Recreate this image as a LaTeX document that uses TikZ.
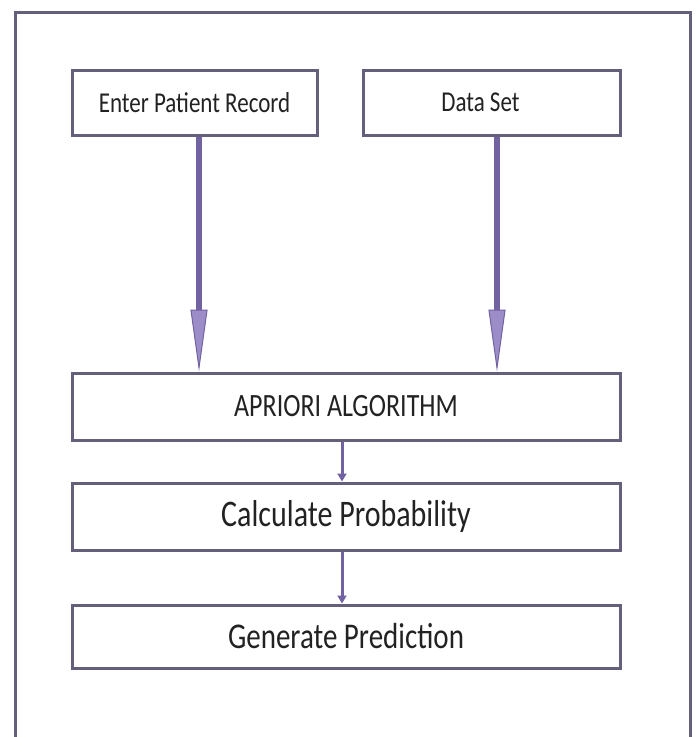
\documentclass[tikz,border=0pt]{standalone}
\usepackage{fontspec}
\setmainfont{Carlito}
\usetikzlibrary{arrows.meta}
\definecolor{edge}{HTML}{665F7C}
\definecolor{arrfill}{HTML}{9C8CC8}
\definecolor{arrline}{HTML}{7262A2}
\definecolor{txt}{HTML}{222222}
\newcommand{\vtxt}[2]{\scalebox{1}[1.25]{\fontsize{#1}{#1}\selectfont #2}}
\begin{document}
\begin{tikzpicture}[x=1pt,y=-1pt,
  box/.style={draw=edge, line width=3pt, inner sep=0pt, text=txt, fill=white},
  bigarrow/.style={draw=arrline, line width=6.5pt,
     -{Triangle[length=62pt,width=17pt,fill=arrfill,line width=1pt]}},
  smallarrow/.style={draw=arrline, line width=3pt,
     -{Triangle[length=8pt,width=9pt,fill=arrline]}}]
\clip (0,0) rectangle (698,737);
\fill[white] (0,0) rectangle (698,737);
\draw[edge, line width=3pt] (15,12) rectangle (690,780);

\node[box, minimum width=245pt, minimum height=65pt] (rec) at (194.5,102.5) {\vtxt{23}{Enter Patient Record}};
\node[box, minimum width=257pt, minimum height=65pt] (ds) at (491.5,102.5) {\vtxt{23}{Data Set}\kern22pt};
\node[box, minimum width=548pt, minimum height=67pt] (apr) at (346,406.5) {\vtxt{26}{APRIORI ALGORITHM}};
\node[box, minimum width=548pt, minimum height=67pt] (calc) at (346,516.5) {\vtxt{30}{Calculate Probability}};
\node[box, minimum width=548pt, minimum height=63pt] (gen) at (346,636.5) {\vtxt{29}{Generate Prediction}};

\coordinate (xa) at (199,0);
\coordinate (xb) at (497,0);
\coordinate (xc) at (342,0);
\draw[bigarrow] (xa |- rec.south) -- (xa |- apr.north);
\draw[bigarrow] (xb |- ds.south) -- (xb |- apr.north);
\draw[smallarrow] (xc |- apr.south) -- (xc |- calc.north);
\draw[smallarrow] (xc |- calc.south) -- (xc |- gen.north);
\end{tikzpicture}
\end{document}
